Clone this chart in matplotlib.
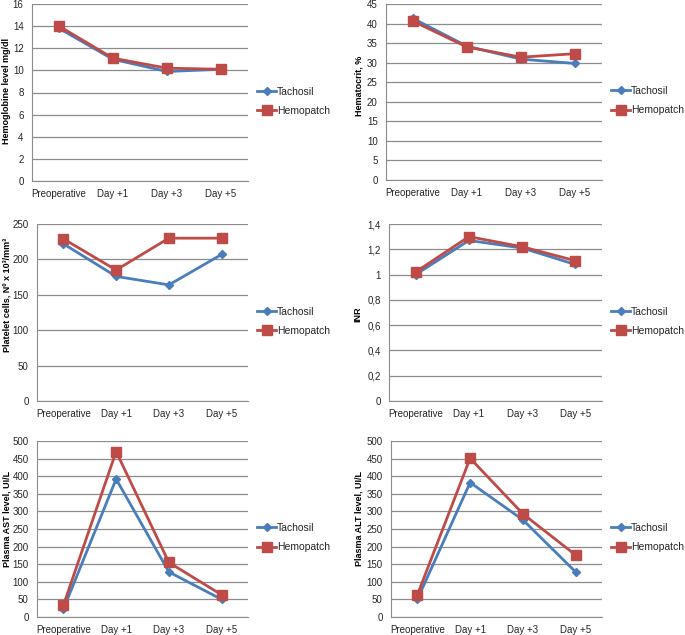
import numpy as np
import matplotlib
matplotlib.use("Agg")
import matplotlib.pyplot as plt

plt.rcParams["font.family"] = ["Liberation Sans", "DejaVu Sans"]

DAYS = ["Preoperative", "Day +1", "Day +3", "Day +5"]

hgb_tacho = [13.8, 11.0, 9.9, 10.1]
hgb_hemo = [14.0, 11.1, 10.2, 10.1]

hct_tacho = [41.3, 34.2, 30.9, 29.8]
hct_hemo = [40.6, 34.0, 31.4, 32.3]

plt_tacho = [222, 176, 164, 207]
plt_hemo = [229, 185, 230, 230]

inr_tacho = [1.00, 1.27, 1.21, 1.08]
inr_hemo = [1.02, 1.30, 1.22, 1.11]

ast_tacho = [22, 392, 128, 50]
ast_hemo = [33, 470, 155, 63]

alt_tacho = [50, 382, 276, 128]
alt_hemo = [63, 451, 293, 176]

BLUE = "#4A7EBB"
RED = "#BE4B48"
GRID = "#8c8c8c"
TXT = "#262626"

W, H = 685, 635

# plot area in pixels: left, top, right, bottom, plus x/y of the y label centre
panels = [
    (32, 4, 248, 181, 7, 91, hgb_tacho, hgb_hemo, "Hemoglobine level mg/dl", 16, 2, None),
    (386, 4, 602, 180, 359, 86, hct_tacho, hct_hemo, "Hematocrit, %", 45, 5, None),
    (37, 224, 248, 401, 7, 295, plt_tacho, plt_hemo, "Platelet cells, Nº x 10³/mm³", 250, 50, None),
    (389, 224, 602, 401, 358, 314, inr_tacho, inr_hemo, "INR", 1.4, 0.2, "comma"),
    (37, 441, 248, 617, 7, 519, ast_tacho, ast_hemo, "Plasma AST level, UI/L", 500, 50, None),
    (391, 441, 602, 617, 359, 519, alt_tacho, alt_hemo, "Plasma ALT level, UI/L", 500, 50, None),
]

fig = plt.figure(figsize=(W / 100, H / 100), dpi=100)

for l, t, r, b, lx, ly, tacho, hemo, ylab, ymax, step, fmt in panels:
    ax = fig.add_axes([l / W, 1 - b / H, (r - l) / W, (b - t) / H])
    x = np.arange(len(DAYS))
    ax.plot(x, tacho, color=BLUE, lw=2, marker="D", ms=4, label="Tachosil", zorder=3)
    ax.plot(x, hemo, color=RED, lw=2, marker="s", ms=6.5, label="Hemopatch", zorder=4)
    ax.set_xlim(-0.5, len(DAYS) - 0.5)
    ax.set_ylim(0, ymax)
    ticks = np.arange(0, ymax + step / 2, step)
    ax.set_yticks(ticks)
    if fmt == "comma":
        labels = []
        for v in ticks:
            s = f"{v:.1f}".rstrip("0").rstrip(".")
            labels.append(s.replace(".", ","))
        ax.set_yticklabels(labels)
    ax.set_xticks(x)
    ax.set_xticklabels(DAYS)
    ax.tick_params(axis="both", labelsize=7, colors=TXT, length=0, pad=6)
    ax.grid(axis="y", color=GRID, lw=0.9)
    ax.set_axisbelow(True)
    for s in ["top", "right"]:
        ax.spines[s].set_visible(False)
    ax.spines["left"].set_color(GRID)
    ax.spines["bottom"].set_color(GRID)
    # y label placed at a fixed pixel spot, like the reference
    fig.text(lx / W, 1 - ly / H, ylab, rotation=90, ha="center", va="center",
             fontsize=6.5, fontweight="bold", color="black")
    ax.legend(loc="center left", bbox_to_anchor=(1.0, 0.45), frameon=False,
              fontsize=7.5, handlelength=1.8, handletextpad=0.1, labelspacing=0.9,
              labelcolor=TXT)

plt.savefig("out.png", dpi=100)
